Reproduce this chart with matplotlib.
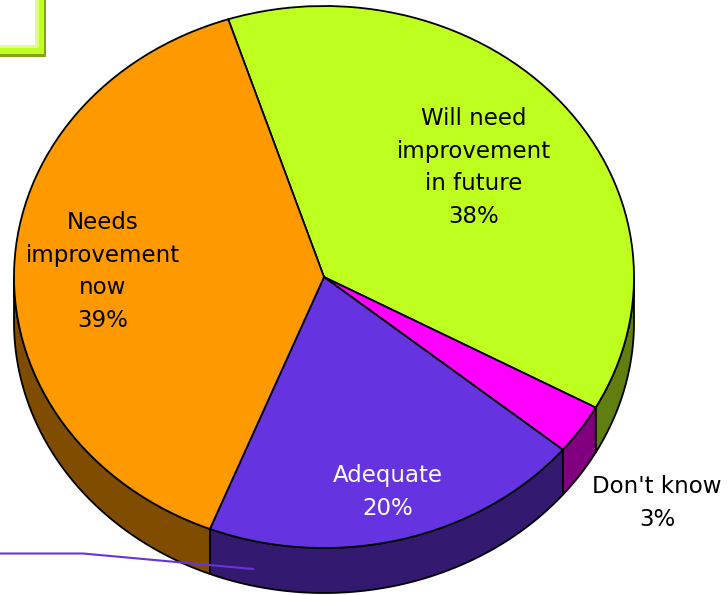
import numpy as np
from matplotlib import pyplot as plt
from matplotlib.patches import Rectangle

## data ##
labels = ['Will need\nimprovement\nin future', "Don't know", 'Adequate', 'Needs\nimprovement\nnow']
percents = [38, 3, 20, 39]
top_colors = ['#BFFF20', '#FF00FF', '#6633E0', '#FF9900']
side_colors = ['#607F10', '#800080', '#331A70', '#804D00']
text_colors = ['black', 'black', 'white', 'black']

## pixel layout ##
W, H = 728, 595
cx, cy = 324, 277
rx, ry = 310, 271
depth = 45 / ry
start = 108


def px(x):
    return (x - cx) / rx


def py(y):
    return (cy - y) / ry


def corner(right, bottom, color):
    # block running off the top left of the figure
    ax.add_patch(Rectangle((px(-20), py(bottom)), (right + 20) / rx, (bottom + 20) / ry,
                           fc=color, ec='none', zorder=1))


fig = plt.figure(figsize=(W / 100, H / 100), dpi=100)
ax = fig.add_axes([0, 0, 1, 1])

## top of the pie ##
wedges, _ = ax.pie(percents, colors=top_colors, startangle=start, counterclock=False,
                   radius=1, wedgeprops={'edgecolor': 'black', 'linewidth': 1.3, 'zorder': 3})
ax.set_aspect('auto')
ax.set_xlim(px(0), px(W))
ax.set_ylim(py(H), py(0))

## side wall, only the front half of the rim shows ##
edges = start - np.cumsum([0] + percents) * 3.6
for i in range(len(percents)):
    hi_vis = min(edges[i], 0)
    lo_vis = max(edges[i + 1], -180)
    if hi_vis <= lo_vis:
        continue
    t = np.radians(np.linspace(hi_vis, lo_vis, 80))
    xs = np.cos(t)
    ys = np.sin(t)
    ax.fill(np.r_[xs, xs[::-1]], np.r_[ys, ys[::-1] - depth], facecolor=side_colors[i],
            edgecolor='black', linewidth=1.3, zorder=2, joinstyle='round')

## frame corner top left ##
corner(45.5, 56.7, '#84A31A')
corner(43.5, 54, '#BFFF20')
corner(38.5, 47.5, '#DDFF8A')
corner(35, 45, 'white')

## purple leader line ##
ax.plot([px(0), px(83), px(253)], [py(553.5), py(553.5), py(569)], color='#6633E0', lw=1.5, zorder=4)

## labels ##
spots = [(474, 167.5), (657, 503), (388, 492), (103, 271.5)]
for i in range(len(labels)):
    txt = labels[i] + '\n' + str(percents[i]) + '%'
    ax.text(px(spots[i][0]), py(spots[i][1]), txt, ha='center', va='center', fontsize=16.5,
            color=text_colors[i], linespacing=1.54, family='DejaVu Sans', zorder=5)

fig.savefig('out.png', dpi=100)
